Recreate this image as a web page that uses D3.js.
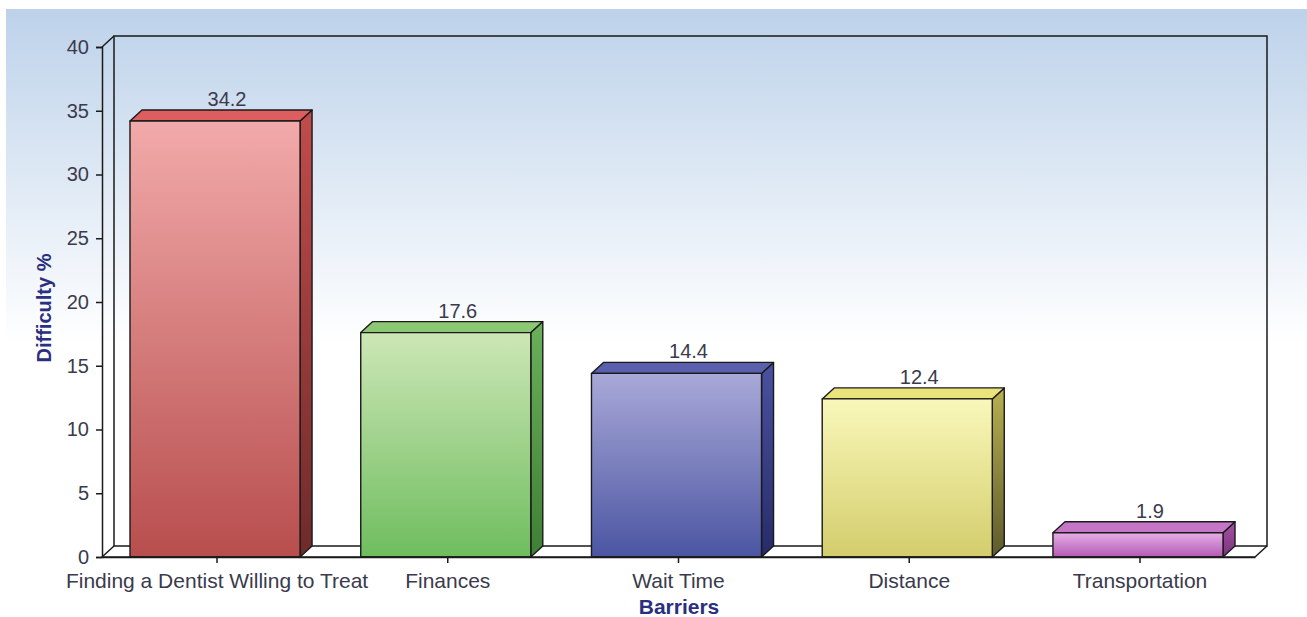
<!DOCTYPE html>
<html><head><meta charset="utf-8">
<script src="https://cdn.jsdelivr.net/npm/d3@7"></script>
<style>html,body{margin:0;padding:0;background:#fff;}svg{display:block;}</style>
</head><body>
<svg id="c" width="1307" height="617"></svg>
<script>
const categories = ["Finding a Dentist Willing to Treat","Finances","Wait Time","Distance","Transportation"];
const values = [34.2, 17.6, 14.4, 12.4, 1.9];
const valueLabels = ["34.2","17.6","14.4","12.4","1.9"];
const yTicks = [0,5,10,15,20,25,30,35,40];
const xTitle = "Barriers";
const yTitle = "Difficulty %";

const palette = [
  {fTop:"#f2aaaa", fBot:"#b84e4e", top:"#dc5e5e", sTop:"#c24c4c", sBot:"#6e2a2a"},
  {fTop:"#cde7b6", fBot:"#6fbd5f", top:"#8cc874", sTop:"#6ab05a", sBot:"#3f7f36"},
  {fTop:"#a9a9d8", fBot:"#4b55a2", top:"#5a5fae", sTop:"#4a51a0", sBot:"#262c68"},
  {fTop:"#f9f8ba", fBot:"#d3cd6c", top:"#ebe47a", sTop:"#b8b050", sBot:"#5e5a2c"},
  {fTop:"#e6aee6", fBot:"#b45ab4", top:"#c676c6", sTop:"#a650a6", sBot:"#7a347a"}
];

const FONT = "Liberation Sans, Arial, sans-serif";
const svg = d3.select("#c");
const W = 1307, H = 617;
const x0 = 102, x1 = 1255, yTop = 47, yBase = 557;
const dx = 12, dy = -11;

const defs = svg.append("defs");
const bg = defs.append("linearGradient").attr("id","bg").attr("x1",0).attr("y1",0).attr("x2",0).attr("y2",1);
bg.append("stop").attr("offset","0%").attr("stop-color","#bdd2ea");
bg.append("stop").attr("offset","55%").attr("stop-color","#ffffff");
bg.append("stop").attr("offset","100%").attr("stop-color","#ffffff");
svg.append("rect").attr("x",6).attr("y",9).attr("width",W-6).attr("height",H-9).attr("fill","url(#bg)");

palette.forEach((p,i)=>{
  const g1 = defs.append("linearGradient").attr("id","f"+i).attr("x1",0).attr("y1",0).attr("x2",0).attr("y2",1);
  g1.append("stop").attr("offset","0%").attr("stop-color",p.fTop);
  g1.append("stop").attr("offset","100%").attr("stop-color",p.fBot);
  const g2 = defs.append("linearGradient").attr("id","s"+i).attr("x1",0).attr("y1",0).attr("x2",0).attr("y2",1);
  g2.append("stop").attr("offset","0%").attr("stop-color",p.sTop);
  g2.append("stop").attr("offset","100%").attr("stop-color",p.sBot);
});

const y = d3.scaleLinear().domain([0,40]).range([yBase,yTop]);
const x = d3.scaleBand().domain(categories).range([x0,x1]).paddingInner(0.263).paddingOuter(0.13);

// frame: back wall, floor
const fr = svg.append("g").attr("fill","none").attr("stroke","#1a1a1a").attr("stroke-width",1.5);
fr.append("path").attr("d",`M${x0+dx},${yBase+dy}V${yTop+dy}H${x1+dx}V${yBase+dy}H${x0+dx}`);
fr.append("path").attr("d",`M${x0},${yTop}L${x0+dx},${yTop+dy}`);
fr.append("path").attr("d",`M${x0},${yBase}L${x0+dx},${yBase+dy}`);
fr.append("path").attr("d",`M${x1},${yBase}L${x1+dx},${yBase+dy}`);

// y axis
const yAxis = svg.append("g").attr("transform",`translate(${x0},0)`)
  .call(d3.axisLeft(y).tickValues(yTicks).tickSize(6).tickPadding(7).tickFormat(d3.format("d")));
yAxis.select(".domain").attr("stroke","#1a1a1a").attr("stroke-width",1.5);
yAxis.selectAll(".tick line").attr("stroke","#1a1a1a").attr("stroke-width",1.5);
yAxis.selectAll("text").attr("font-family",FONT).attr("font-size",20).attr("fill","#3a3a4c");

// x axis
const xAxis = svg.append("g").attr("transform",`translate(0,${yBase})`)
  .call(d3.axisBottom(x).tickSize(6).tickPadding(10).tickSizeOuter(0));
xAxis.select(".domain").attr("stroke","#1a1a1a").attr("stroke-width",1.5);
xAxis.selectAll(".tick line").attr("stroke","#1a1a1a").attr("stroke-width",1.5);
xAxis.selectAll("text").attr("font-family",FONT).attr("font-size",21).attr("fill","#3a3a4c");

// bars
const bars = svg.append("g");
categories.forEach((c,i)=>{
  const bx = x(c) - 2, bw = x.bandwidth(), by = y(values[i]);
  const g = bars.append("g").attr("stroke","#1a1a1a").attr("stroke-width",1.4).attr("stroke-linejoin","round");
  g.append("path").attr("fill","url(#s"+i+")")
    .attr("d",`M${bx+bw},${by}L${bx+bw+dx},${by+dy}V${yBase+dy}L${bx+bw},${yBase}Z`);
  g.append("path").attr("fill",palette[i].top)
    .attr("d",`M${bx},${by}L${bx+dx},${by+dy}H${bx+bw+dx}L${bx+bw},${by}Z`);
  g.append("rect").attr("x",bx).attr("y",by).attr("width",bw).attr("height",yBase-by).attr("fill","url(#f"+i+")");
  svg.append("text").attr("x",bx+bw/2+12).attr("y",by+dy-4).attr("text-anchor","middle")
    .attr("font-family",FONT).attr("font-size",20).attr("fill","#3a3a4c")
    .text(valueLabels[i]);
});
svg.append("line").attr("x1",x0).attr("x2",x1).attr("y1",yBase).attr("y2",yBase).attr("stroke","#1a1a1a").attr("stroke-width",1.5);

svg.append("text").attr("x",679).attr("y",614).attr("text-anchor","middle")
  .attr("font-family",FONT).attr("font-weight","bold").attr("font-size",21).attr("fill","#2b2f7f").text(xTitle);
svg.append("text").attr("transform","translate(51,308) rotate(-90)").attr("text-anchor","middle")
  .attr("font-family",FONT).attr("font-weight","bold").attr("font-size",20).attr("fill","#2b2f7f").text(yTitle);
</script>
</body></html>
